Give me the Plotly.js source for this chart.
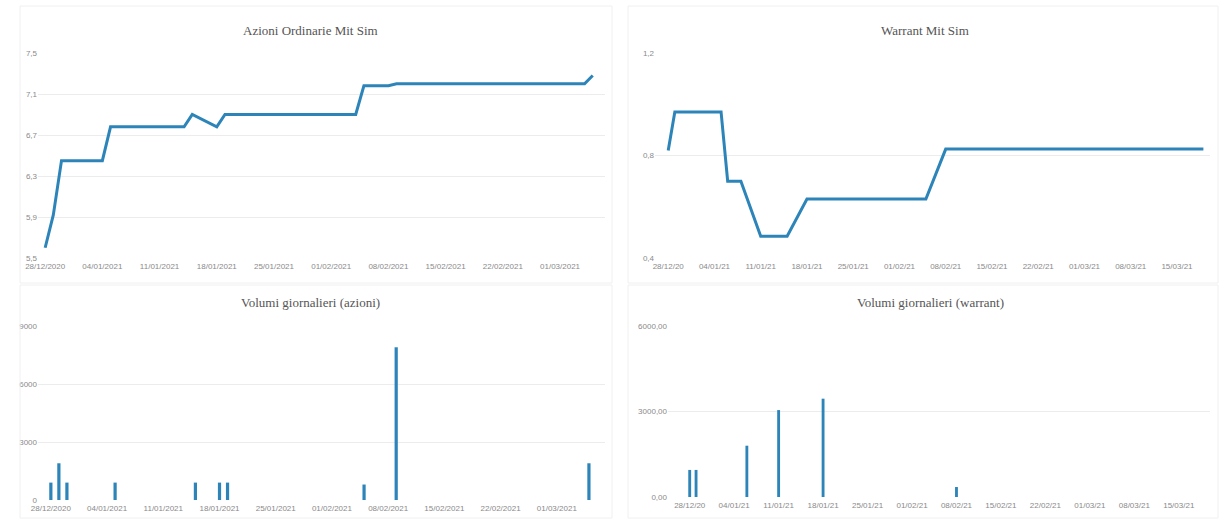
<!DOCTYPE html>
<html><head><meta charset="utf-8">
<script src="https://cdn.plot.ly/plotly-3.0.1.min.js"></script>
<style>html,body{margin:0;padding:0;background:#fff}#c{width:1224px;height:522px}</style>
</head><body><div id="c"></div>
<script>
// Azioni price
const azDates = ['2020-12-28','2020-12-29','2020-12-30','2021-01-04','2021-01-05','2021-01-14','2021-01-15','2021-01-18','2021-01-19','2021-02-04','2021-02-05','2021-02-08','2021-02-09','2021-03-04','2021-03-05'];
const azPrice = [5.6,5.92,6.45,6.45,6.78,6.78,6.9,6.78,6.9,6.9,7.18,7.18,7.2,7.2,7.28];
// Warrant price
const wDates = ['2020-12-28','2020-12-29','2021-01-05','2021-01-06','2021-01-08','2021-01-11','2021-01-15','2021-01-18','2021-02-05','2021-02-08','2021-03-19'];
const wPrice = [0.82,0.97,0.97,0.70,0.70,0.485,0.485,0.63,0.63,0.825,0.825];
// Azioni volumes
const azVolDates = ['2020-12-28','2020-12-29','2020-12-30','2021-01-05','2021-01-15','2021-01-18','2021-01-19','2021-02-05','2021-02-09','2021-03-05'];
const azVol = [900,1900,900,900,900,900,900,800,7900,1900];
// Warrant volumes
const wVolDates = ['2020-12-28','2020-12-29','2021-01-06','2021-01-11','2021-01-18','2021-02-08'];
const wVol = [950,950,1800,3050,3450,350];

const titles = ['Azioni Ordinarie Mit Sim','Warrant Mit Sim','Volumi giornalieri (azioni)','Volumi giornalieri (warrant)'];

const blue = '#2c84b9';
const DAY = 86400000;
const tickFont = {family:'Liberation Sans, Arial', size:8, color:'#8a8a8a'};
const grid = '#ececec';

const traces = [
  {x: azDates, y: azPrice, type:'scatter', mode:'lines', line:{color:blue, width:3}, xaxis:'x', yaxis:'y'},
  {x: wDates, y: wPrice, type:'scatter', mode:'lines', line:{color:blue, width:3}, xaxis:'x2', yaxis:'y2'},
  {x: azVolDates, y: azVol, type:'bar', marker:{color:blue}, width:0.4*DAY, xaxis:'x3', yaxis:'y3'},
  {x: wVolDates, y: wVol, type:'bar', marker:{color:blue}, width:0.45*DAY, xaxis:'x4', yaxis:'y4'}
];

function xax(domain, range, fmt, anchor){
  return {domain:domain, anchor:anchor, type:'date', range:range, tick0:'2020-12-28', dtick:7*DAY, tickformat:fmt,
    showgrid:false, zeroline:false, showline:false, ticks:'', tickfont:tickFont, ticklabelstandoff:2, fixedrange:true};
}
function yax(domain, range, dtick, fmt, anchor){
  return {domain:domain, anchor:anchor, range:range, dtick:dtick, tick0:range[0], tickformat:fmt, showgrid:true, gridcolor:grid, gridwidth:1,
    zeroline:false, showline:false, ticks:'', tickfont:tickFont, fixedrange:true};
}

const W=1224, H=522;
const layout = {
  width:W, height:H, margin:{l:0,r:0,t:0,b:0}, paper_bgcolor:'#fff', plot_bgcolor:'#fff',
  showlegend:false, separators:',.',
  xaxis: xax([38/W, 605/W], ['2020-12-27 03:00','2021-03-06 12:00'], '%d/%m/%Y', 'y'),
  yaxis: yax([1-258/H, 1-53/H], [5.5,7.5], 0.4, '.1f', 'x'),
  xaxis2: xax([655/W, 1210/W], ['2020-12-26','2021-03-20'], '%d/%m/%y', 'y2'),
  yaxis2: yax([1-258/H, 1-53/H], [0.4,1.2], 0.4, '.1f', 'x2'),
  xaxis3: xax([38/W, 605/W], ['2020-12-26 09:36','2021-03-07'], '%d/%m/%Y', 'y3'),
  yaxis3: yax([1-500/H, 1-326/H], [0,9000], 3000, 'd', 'x3'),
  xaxis4: xax([668/W, 1210/W], ['2020-12-24 14:00','2021-03-19 22:00'], '%d/%m/%y', 'y4'),
  yaxis4: yax([1-497/H, 1-326/H], [0,6000], 3000, '.2f', 'x4'),
  annotations: [
    {text:titles[0], x:310/W, y:1-30/H},
    {text:titles[1], x:925/W, y:1-30/H},
    {text:titles[2], x:310/W, y:1-302/H},
    {text:titles[3], x:930/W, y:1-302/H}
  ].map(a => Object.assign(a, {xref:'paper', yref:'paper', showarrow:false, xanchor:'center', yanchor:'middle',
      font:{family:'Liberation Serif, Times New Roman', size:13, color:'#555'}})),
  shapes: [
    {type:'rect', xref:'paper', yref:'paper', x0:20/W, x1:612/W, y0:1-283/H, y1:1-6/H, line:{color:'#f0f0f0', width:1}},
    {type:'rect', xref:'paper', yref:'paper', x0:20/W, x1:612/W, y0:1-518/H, y1:1-285/H, line:{color:'#f0f0f0', width:1}},
    {type:'rect', xref:'paper', yref:'paper', x0:628/W, x1:1218/W, y0:1-283/H, y1:1-6/H, line:{color:'#f0f0f0', width:1}},
    {type:'rect', xref:'paper', yref:'paper', x0:628/W, x1:1218/W, y0:1-518/H, y1:1-285/H, line:{color:'#f0f0f0', width:1}}
  ]
};

Plotly.newPlot('c', traces, layout, {displayModeBar:false, staticPlot:true});
</script>
</body></html>
